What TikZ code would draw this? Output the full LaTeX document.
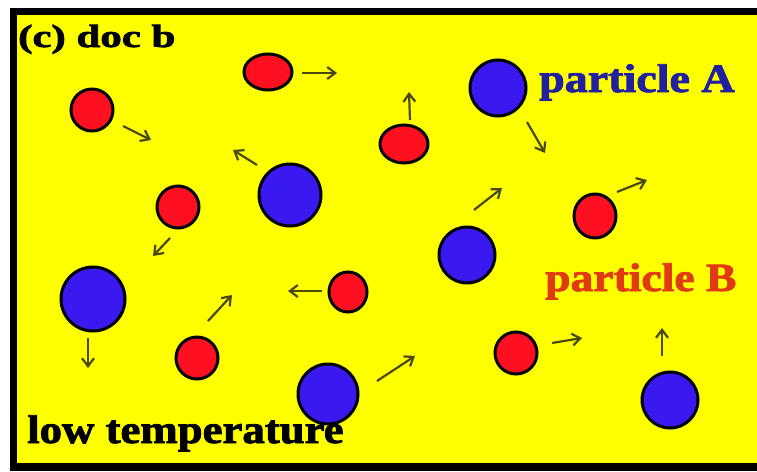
\documentclass[tikz,border=0pt]{standalone}
\usepackage{fontspec}
\setmainfont[BoldFeatures={FakeBold=2}]{Liberation Serif}
\usetikzlibrary{arrows.meta}
\definecolor{bgyellow}{HTML}{FFFF00}
\definecolor{redp}{HTML}{FF1020}
\definecolor{bluep}{HTML}{3A18F0}
\definecolor{arrowc}{HTML}{4A4A10}
\definecolor{textA}{HTML}{2020A0}
\definecolor{textB}{HTML}{E03A10}
\tikzset{
  redpart/.style={draw=black, line width=3pt, fill=redp},
  bluepart/.style={draw=black, line width=3pt, fill=bluep},
  motion/.style={draw=arrowc, line width=2.2pt, -{Straight Barb[length=8pt,width=12pt,line width=2.2pt]}},
  lbl/.style={anchor=base west, inner sep=0pt, font=\fontsize{40}{40}\selectfont\bfseries}
}
\begin{document}
\begin{tikzpicture}[x=1pt,y=-1pt]
\useasboundingbox (0,0) rectangle (757,471);
\fill[white] (0,0) rectangle (757,471);
\fill[bgyellow] (10,8) rectangle (757,471);
\fill[black] (10,8) rectangle (17,471);
\fill[black] (10,8) rectangle (757,15);
\fill[black] (10,463) rectangle (757,471);
% red particles (B)
\draw[redpart] (92,110) ellipse [x radius=21, y radius=21];
\draw[redpart] (268,72) ellipse [x radius=24, y radius=18];
\draw[redpart] (178,207) ellipse [x radius=21, y radius=21];
\draw[redpart] (404,144) ellipse [x radius=24, y radius=19];
\draw[redpart] (595,216) ellipse [x radius=21, y radius=22];
\draw[redpart] (348,292) ellipse [x radius=19, y radius=20];
\draw[redpart] (197,358) ellipse [x radius=21, y radius=21];
\draw[redpart] (516,353) ellipse [x radius=21, y radius=21];
% blue particles (A)
\draw[bluepart] (290,195) circle [radius=31];
\draw[bluepart] (498,88) circle [radius=28];
\draw[bluepart] (467,255) circle [radius=28];
\draw[bluepart] (93,299) circle [radius=32];
\draw[bluepart] (328,394) circle [radius=30];
\draw[bluepart] (670,400) circle [radius=28];
% motion arrows
\draw[motion] (302,73) -- (337,73);
\draw[motion] (123,126) -- (151,140);
\draw[motion] (257,165) -- (233,150);
\draw[motion] (170,238) -- (153,256);
\draw[motion] (410,120) -- (409,92);
\draw[motion] (527,122) -- (545,153);
\draw[motion] (474,210) -- (502,188);
\draw[motion] (617,192) -- (647,180);
\draw[motion] (322,291) -- (288,291);
\draw[motion] (208,321) -- (232,295);
\draw[motion] (88,338) -- (88,368);
\draw[motion] (377,381) -- (415,356);
\draw[motion] (552,343) -- (582,338);
\draw[motion] (662,356) -- (662,328);
% labels
\node[lbl, font=\fontsize{32}{32}\selectfont\bfseries] (title) at (18,47) {\scalebox{1.34}[1]{(c) doc b}};
\node[lbl] (low) at (27,443) {\scalebox{1.12}[1]{low temperature}};
\node[lbl, text=textA] (pa) at (539,92) {\scalebox{1.15}[1]{particle A}};
\node[lbl, text=textB] (pb) at (545,291) {\scalebox{1.14}[1]{particle B}};
\end{tikzpicture}
\end{document}
